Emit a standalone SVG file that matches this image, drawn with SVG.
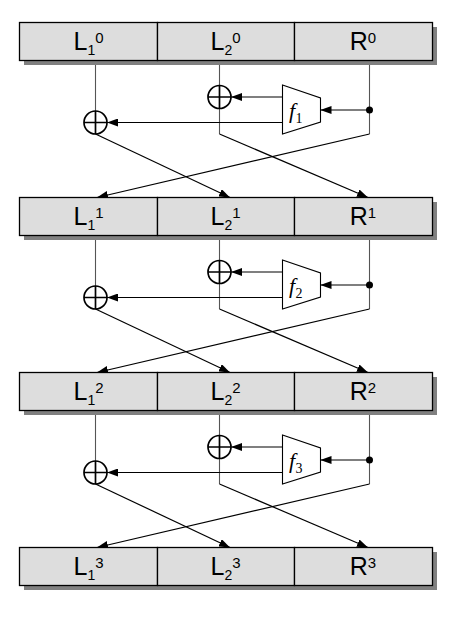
<svg xmlns="http://www.w3.org/2000/svg" width="464" height="619" viewBox="0 0 464 619">
<defs>
<marker id="ah" viewBox="0 0 11 8" refX="11" refY="4" markerWidth="11" markerHeight="8" markerUnits="userSpaceOnUse" orient="auto"><path d="M0,0 L11,4 L0,8 z" fill="#000"/></marker>
<style>
.shadow{fill:#808080}
.cell{fill:#dddddd;stroke:#000;stroke-width:1.3}
.lbl{font-family:"Liberation Sans",Arial,sans-serif;font-size:25px;fill:#000;text-anchor:middle}
.sub{font-size:14px}
.sup{font-size:15px}
.vw{fill:none;stroke:#555;stroke-width:1.1}
.dw{fill:none;stroke:#000;stroke-width:1.2;marker-end:url(#ah)}
.hw{fill:none;stroke:#000;stroke-width:1.1;marker-end:url(#ah)}
.xor circle{fill:#fff;stroke:#000;stroke-width:1.7}
.xor path{stroke:#000;stroke-width:1.7}
.fbox polygon{fill:#fff;stroke:#000;stroke-width:1.1}
.fl{font-family:"Liberation Serif","Times New Roman",serif;fill:#000}
.dot{fill:#000}
</style>
</defs>

<g id="connectors">
<!-- round 1 -->
<path class="vw" d="M95.5,60.5 V111"/>
<path class="dw" d="M95.5,134 L230,197.5"/>
<path class="vw" d="M219.5,60.5 V85.5 M219.5,108.5 V134"/>
<path class="dw" d="M219.5,134 L368,197.5"/>
<path class="vw" d="M369.5,60.5 V134"/>
<path class="dw" d="M369.5,134 L97,197.5"/>
<path class="hw" d="M369.5,110 H320.5"/>
<path class="hw" d="M282.5,97 H231"/>
<path class="hw" d="M282.5,122.5 H107"/>
<!-- round 2 -->
<path class="vw" d="M95.5,235.5 V286"/>
<path class="dw" d="M95.5,309 L230,372.5"/>
<path class="vw" d="M219.5,235.5 V260.5 M219.5,283.5 V309"/>
<path class="dw" d="M219.5,309 L368,372.5"/>
<path class="vw" d="M369.5,235.5 V309"/>
<path class="dw" d="M369.5,309 L97,372.5"/>
<path class="hw" d="M369.5,285 H320.5"/>
<path class="hw" d="M282.5,272 H231"/>
<path class="hw" d="M282.5,297.5 H107"/>
<!-- round 3 -->
<path class="vw" d="M95.5,410.5 V461"/>
<path class="dw" d="M95.5,484 L230,547.5"/>
<path class="vw" d="M219.5,410.5 V435.5 M219.5,458.5 V484"/>
<path class="dw" d="M219.5,484 L368,547.5"/>
<path class="vw" d="M369.5,410.5 V484"/>
<path class="dw" d="M369.5,484 L97,547.5"/>
<path class="hw" d="M369.5,460 H320.5"/>
<path class="hw" d="M282.5,447 H231"/>
<path class="hw" d="M282.5,472.5 H107"/>
</g>

<!-- Row 0 -->
<g id="row0">
<rect class="shadow" x="24" y="27" width="413" height="38"/>
<g id="L1_0"><rect class="cell" x="19.5" y="22.5" width="138" height="38"/><text class="lbl" x="88.5" y="50">L<tspan class="sub" dy="4.5">1</tspan><tspan class="sup" dy="-12">0</tspan></text></g>
<g id="L2_0"><rect class="cell" x="157.5" y="22.5" width="137" height="38"/><text class="lbl" x="225.5" y="50">L<tspan class="sub" dy="4.5">2</tspan><tspan class="sup" dy="-12">0</tspan></text></g>
<g id="R_0"><rect class="cell" x="294.5" y="22.5" width="138" height="38"/><text class="lbl" x="363" y="50">R<tspan class="sup" dy="-7.5">0</tspan></text></g>
</g>

<!-- Row 1 -->
<g id="row1">
<rect class="shadow" x="24" y="202" width="413" height="38"/>
<g id="L1_1"><rect class="cell" x="19.5" y="197.5" width="138" height="38"/><text class="lbl" x="88.5" y="225">L<tspan class="sub" dy="4.5">1</tspan><tspan class="sup" dy="-12">1</tspan></text></g>
<g id="L2_1"><rect class="cell" x="157.5" y="197.5" width="137" height="38"/><text class="lbl" x="225.5" y="225">L<tspan class="sub" dy="4.5">2</tspan><tspan class="sup" dy="-12">1</tspan></text></g>
<g id="R_1"><rect class="cell" x="294.5" y="197.5" width="138" height="38"/><text class="lbl" x="363" y="225">R<tspan class="sup" dy="-7.5">1</tspan></text></g>
</g>

<!-- Row 2 -->
<g id="row2">
<rect class="shadow" x="24" y="377" width="413" height="38"/>
<g id="L1_2"><rect class="cell" x="19.5" y="372.5" width="138" height="38"/><text class="lbl" x="88.5" y="400">L<tspan class="sub" dy="4.5">1</tspan><tspan class="sup" dy="-12">2</tspan></text></g>
<g id="L2_2"><rect class="cell" x="157.5" y="372.5" width="137" height="38"/><text class="lbl" x="225.5" y="400">L<tspan class="sub" dy="4.5">2</tspan><tspan class="sup" dy="-12">2</tspan></text></g>
<g id="R_2"><rect class="cell" x="294.5" y="372.5" width="138" height="38"/><text class="lbl" x="363" y="400">R<tspan class="sup" dy="-7.5">2</tspan></text></g>
</g>

<!-- Row 3 -->
<g id="row3">
<rect class="shadow" x="24" y="552" width="413" height="38"/>
<g id="L1_3"><rect class="cell" x="19.5" y="547.5" width="138" height="38"/><text class="lbl" x="88.5" y="575">L<tspan class="sub" dy="4.5">1</tspan><tspan class="sup" dy="-12">3</tspan></text></g>
<g id="L2_3"><rect class="cell" x="157.5" y="547.5" width="137" height="38"/><text class="lbl" x="225.5" y="575">L<tspan class="sub" dy="4.5">2</tspan><tspan class="sup" dy="-12">3</tspan></text></g>
<g id="R_3"><rect class="cell" x="294.5" y="547.5" width="138" height="38"/><text class="lbl" x="363" y="575">R<tspan class="sup" dy="-7.5">3</tspan></text></g>
</g>

<!-- Round 1 nodes -->
<g id="xor1a" class="xor"><circle cx="219.5" cy="97" r="11.5"/><path d="M208,97 H231 M219.5,85.5 V108.5"/></g>
<g id="xor1b" class="xor"><circle cx="95.5" cy="122.5" r="11.5"/><path d="M84,122.5 H107 M95.5,111 V134"/></g>
<g id="f1" class="fbox"><polygon points="282.5,85 320.5,98 320.5,122 282.5,134"/><text class="fl" x="289" y="118" font-size="22" font-style="italic">f</text><text class="fl" x="295.5" y="122.5" font-size="14">1</text></g>
<g id="dot1"><circle class="dot" cx="369.5" cy="110" r="3.5"/></g>

<!-- Round 2 nodes -->
<g id="xor2a" class="xor"><circle cx="219.5" cy="272" r="11.5"/><path d="M208,272 H231 M219.5,260.5 V283.5"/></g>
<g id="xor2b" class="xor"><circle cx="95.5" cy="297.5" r="11.5"/><path d="M84,297.5 H107 M95.5,286 V309"/></g>
<g id="f2" class="fbox"><polygon points="282.5,260 320.5,273 320.5,297 282.5,309"/><text class="fl" x="289" y="293" font-size="22" font-style="italic">f</text><text class="fl" x="295.5" y="297.5" font-size="14">2</text></g>
<g id="dot2"><circle class="dot" cx="369.5" cy="285" r="3.5"/></g>

<!-- Round 3 nodes -->
<g id="xor3a" class="xor"><circle cx="219.5" cy="447" r="11.5"/><path d="M208,447 H231 M219.5,435.5 V458.5"/></g>
<g id="xor3b" class="xor"><circle cx="95.5" cy="472.5" r="11.5"/><path d="M84,472.5 H107 M95.5,461 V484"/></g>
<g id="f3" class="fbox"><polygon points="282.5,435 320.5,448 320.5,472 282.5,484"/><text class="fl" x="289" y="468" font-size="22" font-style="italic">f</text><text class="fl" x="295.5" y="472.5" font-size="14">3</text></g>
<g id="dot3"><circle class="dot" cx="369.5" cy="460" r="3.5"/></g>
</svg>
